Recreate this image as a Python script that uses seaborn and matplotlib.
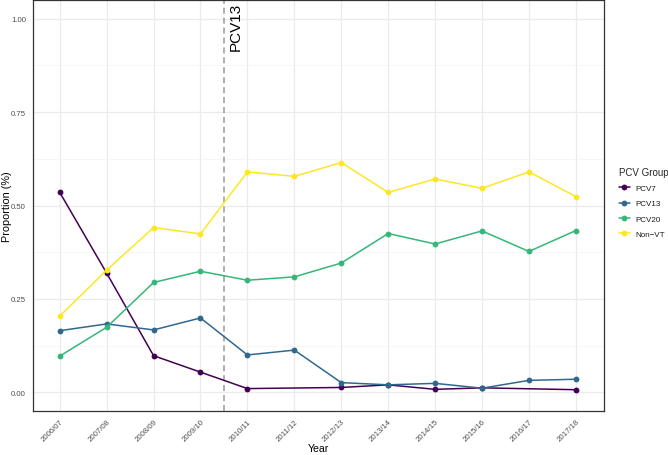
import numpy as np
import pandas as pd
import seaborn as sns
import matplotlib.pyplot as plt

years = ['2006/07', '2007/08', '2008/09', '2009/10', '2010/11', '2011/12',
         '2012/13', '2013/14', '2014/15', '2015/16', '2016/17', '2017/18']
groups = ['PCV7', 'PCV13', 'PCV20', 'Non\u2212VT']

pcv7 = [0.535, 0.319, 0.098, 0.054, 0.010, np.nan, 0.013, 0.020, 0.008, 0.012, np.nan, 0.007]
pcv13 = [0.165, 0.183, 0.167, 0.199, 0.100, 0.113, 0.026, 0.020, 0.024, 0.011, 0.032, 0.035]
pcv20 = [0.097, 0.174, 0.294, 0.324, 0.300, 0.309, 0.346, 0.425, 0.397, 0.432, 0.377, 0.433]
nonvt = [0.204, 0.327, 0.441, 0.424, 0.590, 0.578, 0.615, 0.535, 0.571, 0.546, 0.590, 0.524]

df = pd.DataFrame({
    'Year': years * 4,
    'PCV Group': np.repeat(groups, len(years)),
    'Proportion': pcv7 + pcv13 + pcv20 + nonvt,
})
df['x'] = df['Year'].map({y: i for i, y in enumerate(years)})
df = df.dropna()

palette = ['#440154', '#31688E', '#35B779', '#FDE725']

sns.set_theme(style='whitegrid')
plt.rcParams['font.family'] = ['Liberation Sans', 'DejaVu Sans']

fig = plt.figure(figsize=(6.68, 4.56), dpi=100)
ax = fig.add_axes([33 / 668, 1 - 412 / 456, (604 - 33) / 668, 411 / 456])

sns.lineplot(data=df, x='x', y='Proportion', hue='PCV Group', hue_order=groups,
             palette=palette, marker='o', markersize=4.2, markeredgewidth=0,
             linewidth=1.1, ax=ax)

ax.axvline(3.5, color='#9a9a9a', linestyle=(0, (4, 2.5)), linewidth=1.1, zorder=1)
ax.text(3.6, 1.045, 'PCV13', rotation=90, va='top', ha='left', fontsize=11, color='black')

ax.set_xlim(-0.57, 11.6)
ax.set_ylim(-0.05, 1.05)
ax.set_xticks(range(len(years)))
ax.set_xticklabels(years, rotation=45, ha='right', rotation_mode='anchor')
ax.set_yticks([0, 0.25, 0.5, 0.75, 1.0])
ax.set_yticklabels(['0.00', '0.25', '0.50', '0.75', '1.00'])
ax.set_yticks([0.125, 0.375, 0.625, 0.875], minor=True)
ax.grid(True, which='major', color='#ebebeb', linewidth=0.9)
ax.grid(True, which='minor', axis='y', color='#f3f3f3', linewidth=0.5)
ax.tick_params(axis='both', labelsize=5.6, colors='#4d4d4d', length=3, width=0.7,
               which='major', pad=2)
ax.tick_params(axis='y', which='minor', length=0)
ax.tick_params(axis='both', which='major', color='#333333')
for s in ax.spines.values():
    s.set_color('#333333')
    s.set_linewidth(0.9)
ax.set_facecolor('white')

ax.set_xlabel('Year', fontsize=7.6, color='black')
ax.set_ylabel('Proportion (%)', fontsize=7.8, color='black')
ax.xaxis.set_label_coords(0.5, -0.078)
ax.yaxis.set_label_coords(-0.037, 0.5)

handles, labels = ax.get_legend_handles_labels()
leg = ax.legend(handles, labels, title='PCV Group', loc='upper left',
                bbox_to_anchor=(1.026, 0.594), frameon=False, fontsize=5.8,
                title_fontsize=7, handlelength=1.4, handletextpad=0.7,
                labelspacing=0.95, alignment='left', borderpad=0, borderaxespad=0)
for t in leg.get_texts():
    t.set_color('#1a1a1a')

fig.savefig('out.png', dpi=100)
